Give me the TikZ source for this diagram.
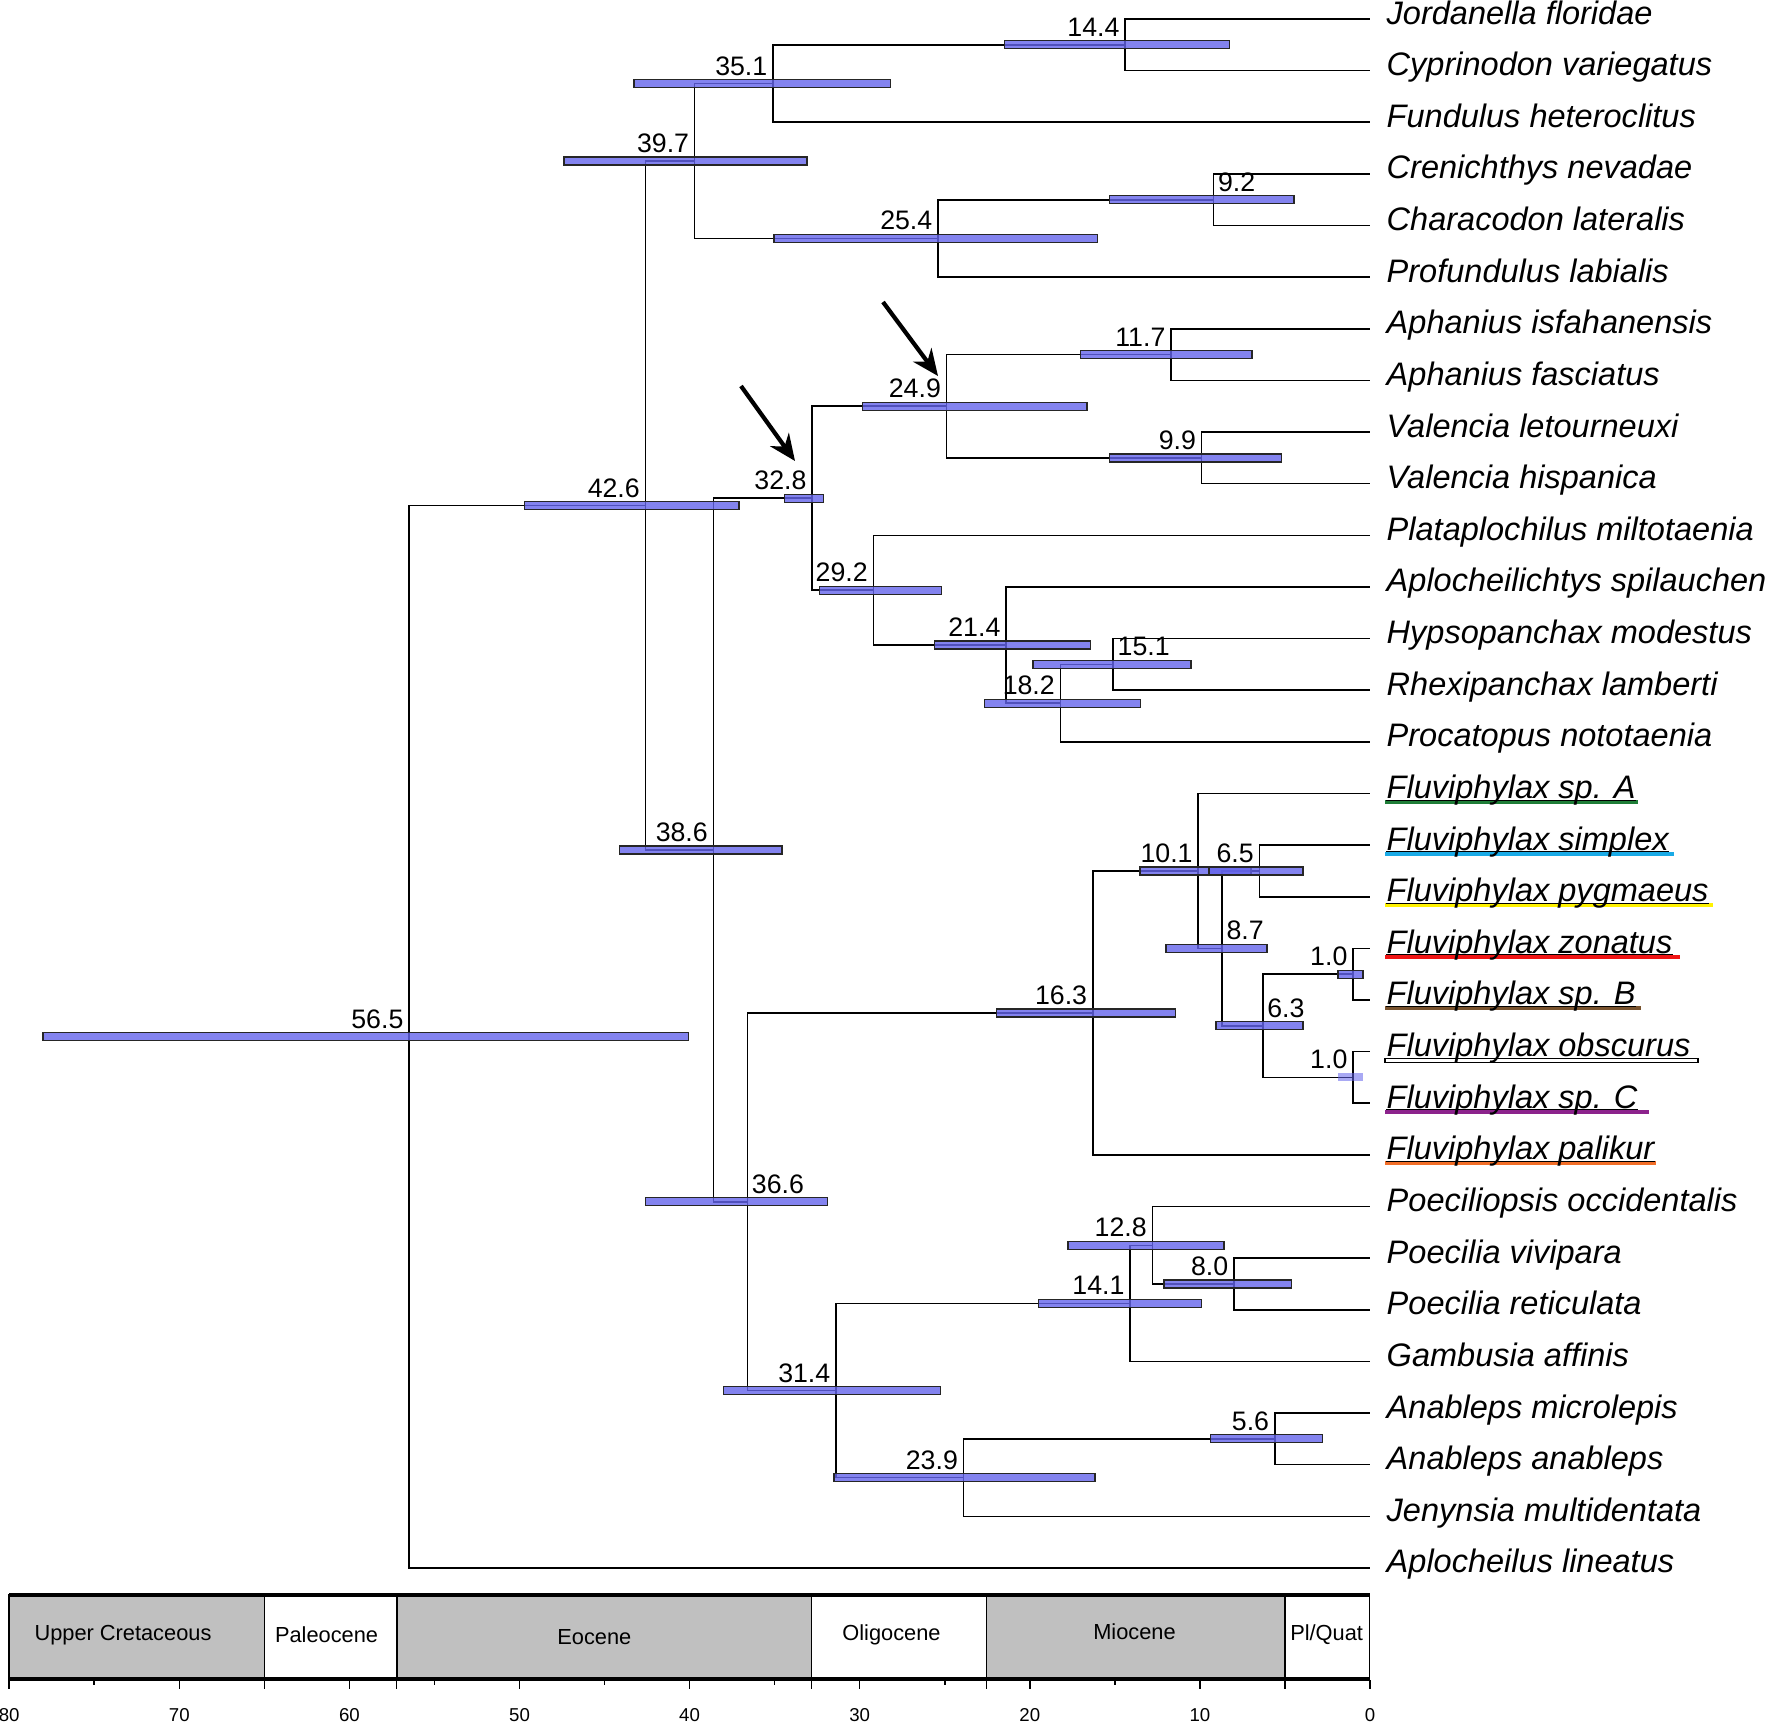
\documentclass[tikz,border=0pt]{standalone}
\usepackage{fontspec}
\setmainfont{Liberation Sans}
\usetikzlibrary{arrows.meta,calc}
\definecolor{barblue}{RGB}{100,100,235}
\definecolor{geogray}{RGB}{192,192,192}
\definecolor{ulgreen}{RGB}{30,125,55}
\definecolor{ulcyan}{RGB}{25,170,230}
\definecolor{ulyellow}{RGB}{255,242,0}
\definecolor{ulred}{RGB}{240,20,20}
\definecolor{ulbrown}{RGB}{120,82,45}
\definecolor{ulpurple}{RGB}{140,35,140}
\definecolor{ulorange}{RGB}{242,110,40}
\begin{document}
\begin{tikzpicture}[x=0.01cm,y=-0.01cm,
  branch/.style={line width=0.45pt, black},
  hpd/.style={fill=barblue, fill opacity=0.8, draw=black!85, draw opacity=1, line width=0.35pt},
  hpdlight/.style={fill=barblue, fill opacity=0.55, draw=none},
  age/.style={font=\fontsize{7.6}{9}\selectfont, inner sep=0pt},
  agel/.style={age, anchor=base east, xshift=-1.4pt, yshift=2.4pt},
  ager/.style={age, anchor=base west, xshift=1.1pt, yshift=2.4pt},
  taxon/.style={font=\fontsize{9.25}{11}\selectfont\itshape, inner sep=0pt, anchor=base west},
  era/.style={font=\fontsize{6.2}{7}\selectfont, inner sep=0pt},
  ticklab/.style={font=\fontsize{5.3}{6}\selectfont, inner sep=0pt},
  axisline/.style={line width=0.45pt},
  pointer/.style={line width=1.2pt, -{Stealth[length=7.5pt,width=6.5pt,inset=2.4pt]}},
]
\useasboundingbox (0,0) rectangle (1772,1726);
\fill[white] (0,0) rectangle (1772,1726);

% ---------- leaves ----------
\foreach \i/\name in {
 0/Jordanella floridae, 1/Cyprinodon variegatus, 2/Fundulus heteroclitus,
 3/Crenichthys nevadae, 4/Characodon lateralis, 5/Profundulus labialis,
 6/Aphanius isfahanensis, 7/Aphanius fasciatus, 8/Valencia letourneuxi,
 9/Valencia hispanica, 10/Plataplochilus miltotaenia, 11/Aplocheilichtys spilauchen,
 12/Hypsopanchax modestus, 13/Rhexipanchax lamberti, 14/Procatopus nototaenia,
 15/Fluviphylax sp. A, 16/Fluviphylax simplex, 17/Fluviphylax pygmaeus,
 18/Fluviphylax zonatus, 19/Fluviphylax sp. B, 20/Fluviphylax obscurus,
 21/Fluviphylax sp. C, 22/Fluviphylax palikur, 23/Poeciliopsis occidentalis,
 24/Poecilia vivipara, 25/Poecilia reticulata, 26/Gambusia affinis,
 27/Anableps microlepis, 28/Anableps anableps, 29/Jenynsia multidentata,
 30/Aplocheilus lineatus} {
  \coordinate (t\i) at (1370, {19+51.63*\i});
}

% ---------- internal nodes ----------
\coordinate (n144) at (1125.1, 44.8);
\coordinate (n351) at (772.9, 83.6);
\coordinate (n92)  at (1213.5, 199.7);
\coordinate (n254) at (937.9, 238.4);
\coordinate (n397) at (694.7, 161.0);
\coordinate (n117) at (1171.0, 354.6);
\coordinate (n99)  at (1201.6, 457.9);
\coordinate (n249) at (946.5, 406.2);
\coordinate (n151) at (1113.1, 664.4);
\coordinate (n182) at (1060.4, 703.1);
\coordinate (n214) at (1006.0, 645.0);
\coordinate (n292) at (873.3, 590.2);
\coordinate (n328) at (812.1, 498.2);
\coordinate (n65)  at (1259.4, 870.9);
\coordinate (n10a) at (1353.0, 974.2);
\coordinate (n10b) at (1353.0, 1077.4);
\coordinate (n63)  at (1262.8, 1025.8);
\coordinate (n87)  at (1222.0, 948.4);
\coordinate (n101) at (1198.2, 871.0);
\coordinate (n163) at (1092.7, 1013.0);
\coordinate (n80)  at (1233.9, 1284.0);
\coordinate (n128) at (1152.3, 1245.3);
\coordinate (n141) at (1130.1, 1303.4);
\coordinate (n56)  at (1274.7, 1438.8);
\coordinate (n239) at (963.5, 1477.6);
\coordinate (n314) at (835.9, 1390.5);
\coordinate (n366) at (747.4, 1201.8);
\coordinate (n386) at (713.4, 850.0);
\coordinate (n426) at (645.4, 505.5);
\coordinate (n565) at (409.0, 1036.7);

% ---------- branches ----------
\foreach \p/\c in {
 n565/n426, n565/t30, n426/n397, n426/n386,
 n397/n351, n397/n254, n351/n144, n351/t2, n144/t0, n144/t1,
 n254/n92, n254/t5, n92/t3, n92/t4,
 n386/n328, n386/n366, n328/n249, n328/n292,
 n249/n117, n249/n99, n117/t6, n117/t7, n99/t8, n99/t9,
 n292/t10, n292/n214, n214/t11, n214/n182, n182/n151, n182/t14,
 n151/t12, n151/t13,
 n366/n163, n366/n314, n163/n101, n163/t22, n101/t15, n101/n87,
 n87/n65, n87/n63, n65/t16, n65/t17, n63/n10a, n63/n10b,
 n10a/t18, n10a/t19, n10b/t20, n10b/t21,
 n314/n141, n314/n239, n141/n128, n141/t26, n128/t23, n128/n80,
 n80/t24, n80/t25, n239/n56, n239/t29, n56/t27, n56/t28} {
  \draw[branch] (\p) |- (\c);
}

% ---------- HPD bars ----------
\foreach \a/\b/\y in {
 1004.6/1229.5/44.8, 634.0/890.5/83.6, 563.9/806.9/161.0,
 1109.7/1293.9/199.7, 774.1/1097.3/238.4,
 1080.3/1252.1/354.6, 862.2/1087.1/406.2, 1109.7/1281.5/457.9,
 784.3/823.8/498.2, 524.3/739.1/505.5,
 819.3/941.3/590.2, 934.6/1090.5/645.0, 1032.9/1191.1/664.4, 984.3/1140.2/703.1,
 619.3/782.0/850.0,
 1140.0/1251.0/871.0, 1209.0/1303.0/870.9, 1166.0/1267.0/948.4,
 1216.0/1303.0/1025.8, 1338.0/1363.0/974.2,
 996.7/1175.3/1013.0, 42.9/688.2/1036.7, 645.3/827.2/1201.8,
 1067.9/1223.9/1245.3, 1164.0/1291.7/1284.0, 1038.5/1201.3/1303.4,
 723.2/940.2/1390.5, 1210.3/1322.2/1438.8, 834.0/1095.0/1477.6} {
  \draw[hpd] (\a, \y-4) rectangle (\b, \y+4);
}
\fill[hpdlight] (1338.0, 1073.4) rectangle (1363.0, 1081.4);

% ---------- age labels ----------
\node[agel] (a144) at (n144) {14.4};
\node[agel] (a351) at (n351) {35.1};
\node[agel] (a397) at (n397) {39.7};
\node[ager] (a92)  at (n92)  {9.2};
\node[agel] (a254) at (n254) {25.4};
\node[agel] (a117) at (n117) {11.7};
\node[agel] (a249) at (n249) {24.9};
\node[agel] (a99)  at (n99)  {9.9};
\node[agel] (a328) at (n328) {32.8};
\node[agel] (a426) at (n426) {42.6};
\node[agel] (a292) at (n292) {29.2};
\node[agel] (a214) at (n214) {21.4};
\node[ager] (a151) at (n151) {15.1};
\node[agel] (a182) at (n182) {18.2};
\node[agel] (a386) at (n386) {38.6};
\node[agel] (a101) at (n101) {10.1};
\node[agel] (a65)  at (n65)  {6.5};
\node[ager] (a87)  at (n87)  {8.7};
\node[agel] (a10a) at (n10a) {1.0};
\node[ager] (a63)  at (n63)  {6.3};
\node[agel] (a10b) at (n10b) {1.0};
\node[agel] (a163) at (n163) {16.3};
\node[agel] (a565) at (n565) {56.5};
\node[ager] (a366) at (n366) {36.6};
\node[agel] (a128) at (n128) {12.8};
\node[agel] (a80)  at (n80)  {8.0};
\node[agel] (a141) at (n141) {14.1};
\node[agel] (a314) at (n314) {31.4};
\node[agel] (a56)  at (n56)  {5.6};
\node[agel] (a239) at (n239) {23.9};

% ---------- coloured underlines ----------
\foreach \i/\c/\e in {15/ulgreen/1638, 16/ulcyan/1674, 17/ulyellow/1713,
  18/ulred/1679.5, 19/ulbrown/1641, 21/ulpurple/1648.6, 22/ulorange/1656} {
  \fill[\c] (1385, {19+51.63*\i+6.5}) rectangle (\e, {19+51.63*\i+10.5});
}
\draw[fill=white, line width=0.3pt] (1385, {19+51.63*20+6.5}) rectangle (1698, {19+51.63*20+10.5});

% ---------- taxon labels ----------
\foreach \i/\name in {
 0/Jordanella floridae, 1/Cyprinodon variegatus, 2/Fundulus heteroclitus,
 3/Crenichthys nevadae, 4/Characodon lateralis, 5/Profundulus labialis,
 6/Aphanius isfahanensis, 7/Aphanius fasciatus, 8/Valencia letourneuxi,
 9/Valencia hispanica, 10/Plataplochilus miltotaenia, 11/Aplocheilichtys spilauchen,
 12/Hypsopanchax modestus, 13/Rhexipanchax lamberti, 14/Procatopus nototaenia,
 15/Fluviphylax sp. A, 16/Fluviphylax simplex, 17/Fluviphylax pygmaeus,
 18/Fluviphylax zonatus, 19/Fluviphylax sp. B, 20/Fluviphylax obscurus,
 21/Fluviphylax sp. C, 22/Fluviphylax palikur, 23/Poeciliopsis occidentalis,
 24/Poecilia vivipara, 25/Poecilia reticulata, 26/Gambusia affinis,
 27/Anableps microlepis, 28/Anableps anableps, 29/Jenynsia multidentata,
 30/Aplocheilus lineatus} {
  \node[taxon] (l\i) at (1386, {24+51.63*\i}) {\name};
}
\foreach \i in {15,...,22} {
  \draw[line width=0.3pt] ([yshift=-0.45pt]l\i.base west) -- ([yshift=-0.45pt]l\i.base east);
}

% ---------- arrows ----------
\coordinate (ar1s) at (741,386);
\coordinate (ar1e) at (795,461);
\coordinate (ar2s) at (883,302);
\coordinate (ar2e) at (938,376);
\draw[pointer] (ar1s) -- (ar1e);
\draw[pointer] (ar2s) -- (ar2e);

% ---------- geological time scale ----------
\foreach \a/\b/\f in {9/264.4/geogray, 264.4/396.7/white, 396.7/811.4/geogray,
  811.4/986.6/white, 986.6/1284.9/geogray, 1284.9/1369.6/white} {
  \draw[fill=\f, line width=0.5pt] (\a,1594.5) rectangle (\b,1679);
}
\draw[line width=1.15pt] (9,1594.5) -- (1369.6,1594.5);
\draw[line width=1.15pt] (9,1679) -- (1369.6,1679);
\node[era] (eUC) at (123,1635) {Upper Cretaceous};
\node[era] (ePa) at (326.6,1635) {Paleocene};
\node[era] (eEo) at (594.4,1636.7) {Eocene};
\node[era] (eOl) at (891.5,1635) {Oligocene};
\node[era] (eMi) at (1134.5,1631.7) {Miocene};
\node[era] (ePQ) at (1326.6,1635) {Pl/Quat};

\foreach \t in {80,70,...,0} {
  \draw[axisline] ({1370-17.01*\t},1680) -- ++(0,9);
  \node[ticklab] (ax\t) at ({1370-17.01*\t},1715) {\t};
}
\foreach \t in {75,65,...,5} {
  \draw[axisline] ({1370-17.01*\t},1680) -- ++(0,5);
}
\foreach \x in {264.4,396.7,811.4,986.6,1284.9} {
  \draw[axisline] (\x,1680) -- ++(0,9);
}
\end{tikzpicture}
\end{document}
